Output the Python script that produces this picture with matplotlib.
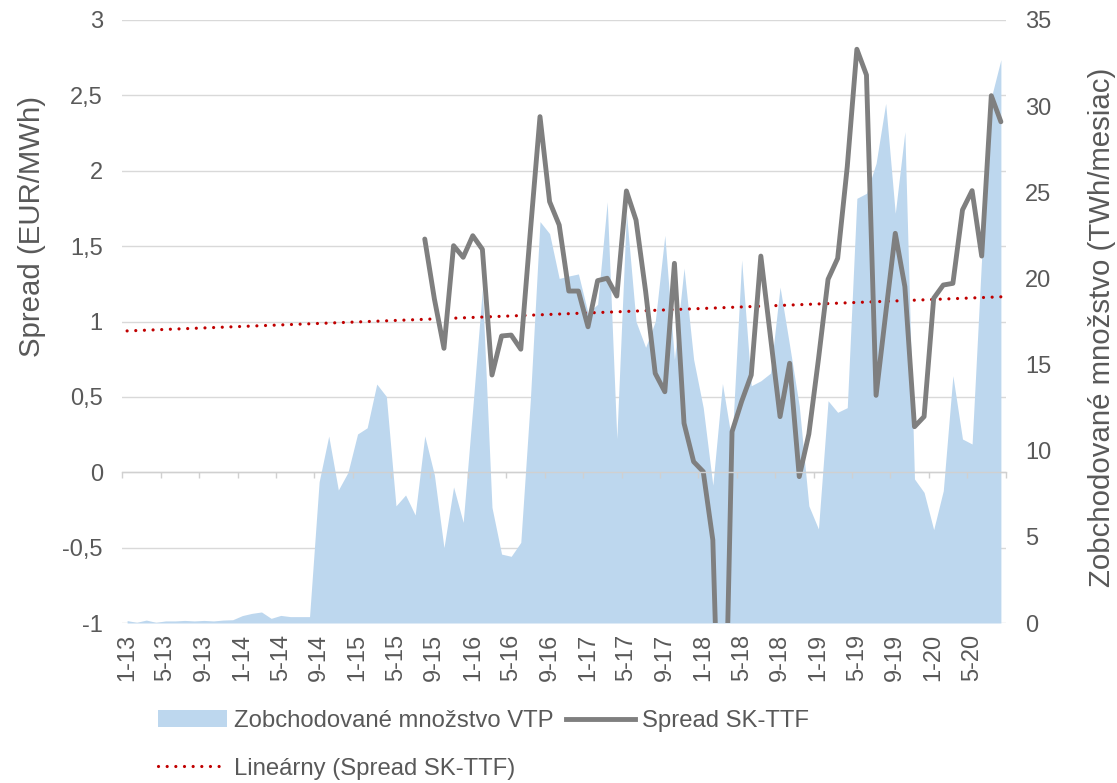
import numpy as np
import matplotlib
matplotlib.use("Agg")
import matplotlib.pyplot as plt
from matplotlib.patches import Patch
from matplotlib.lines import Line2D
from matplotlib.ticker import FuncFormatter

plt.rcParams['font.family'] = ['Liberation Sans', 'DejaVu Sans']

# ---- data -------------------------------------------------------------
months = [f"{m}-{y}" for y in range(13, 21) for m in range(1, 13)][:92]

volume = [0.14, 0.04, 0.17, 0.04, 0.12, 0.12, 0.15, 0.12, 0.15, 0.12,
          0.17, 0.19, 0.43, 0.56, 0.64, 0.27, 0.44, 0.37, 0.37, 0.37,
          8.2, 10.85, 7.72, 8.74, 10.97, 11.33, 13.87, 13.15, 6.8, 7.43,
          6.27, 10.86, 8.6, 4.37, 7.9, 5.84, 12.5, 19.4, 6.71, 4.0,
          3.87, 4.68, 13.0, 23.3, 22.6, 20.0, 20.14, 20.26, 18.0, 18.5,
          24.45, 10.7, 23.8, 17.5, 16.0, 17.5, 22.5, 15.3, 20.6, 15.3,
          12.5, 8.0, 13.9, 10.5, 21.07, 13.77, 14.06, 14.5, 19.5, 16.1,
          12.6, 6.8, 5.46, 12.9, 12.23, 12.5, 24.65, 24.94, 26.68, 30.16,
          23.78, 28.52, 8.36, 7.58, 5.42, 7.68, 14.35, 10.68, 10.39, 21.26,
          30.5, 32.7]

spread = [np.nan] * 31 + [
    1.547, 1.15, 0.822, 1.503, 1.426, 1.569, 1.479, 0.645, 0.904,
    0.910, 0.816, 1.6, 2.359, 1.795, 1.64, 1.202, 1.202, 0.965, 1.271,
    1.287, 1.169, 1.866, 1.673, 1.2, 0.656, 0.534, 1.386, 0.325, 0.07,
    0.004, -0.45, -2.6, 0.269, 0.47, 0.645, 1.434, 0.9, 0.369, 0.723,
    -0.029, 0.254, 0.75, 1.28, 1.419, 2.027, 2.806, 2.635, 0.51, 1.05,
    1.585, 1.231, 0.302, 0.369, 1.154, 1.242, 1.253, 1.74, 1.868, 1.434,
    2.498, 2.325]

left_ticks = [-1, -0.5, 0, 0.5, 1, 1.5, 2, 2.5, 3]
right_ticks = [0, 5, 10, 15, 20, 25, 30, 35]

lbl_volume = "Zobchodované množstvo VTP"
lbl_spread = "Spread SK-TTF"
lbl_trend = "Lineárny (Spread SK-TTF)"
ylabel_left = "Spread (EUR/MWh)"
ylabel_right = "Zobchodované množstvo (TWh/mesiac)"

# ---- styling ----------------------------------------------------------
C_AREA = "#BDD7EE"
C_LINE = "#7F7F7F"
C_TREND = "#C00000"
C_GRID = "#D9D9D9"
C_TEXT = "#595959"
FS_TICK = 17
FS_LEG = 17.2
FS_TITLE = 21.2

W, H = 1117, 783
fig = plt.figure(figsize=(W / 100, H / 100), dpi=100)
L, R, T, B = 122.3, 1005.7, 20, 623
rect = [L / W, 1 - B / H, (R - L) / W, (B - T) / H]

x = np.arange(len(months))
s = np.array(spread, dtype=float)
mask = ~np.isnan(s)
coef = np.polyfit(x[mask], s[mask], 1)
trend = np.polyval(coef, x)

# bottom axes: left scale, gridlines, category labels
ax = fig.add_axes(rect)
ax.set_xlim(-0.5, len(months) - 0.5)
ax.set_ylim(-1, 3)
ax.set_yticks(left_ticks)
ax.yaxis.set_major_formatter(FuncFormatter(lambda v, p: (f"{v:g}").replace(".", ",")))
ax.grid(axis='y', color=C_GRID, lw=1.0)
ax.set_axisbelow(True)
ax.set_xticks(x[::4])
ax.set_xticklabels(months[::4], rotation=90)
ax.tick_params(axis='x', length=0, pad=8, labelsize=FS_TICK, labelcolor=C_TEXT)
ax.tick_params(axis='y', length=0, pad=14, labelsize=FS_TICK, labelcolor=C_TEXT)
for sp in ax.spines.values():
    sp.set_visible(False)

# area on right scale
ax2 = ax.twinx()
ax2.fill_between(x, 0, volume, color=C_AREA, lw=0)
ax2.set_ylim(0, 35)
ax2.set_yticks(right_ticks)
ax2.tick_params(axis='y', length=0, pad=14, labelsize=FS_TICK, labelcolor=C_TEXT)
for sp in ax2.spines.values():
    sp.set_visible(False)

# top axes: spread line, trend, zero axis
ax3 = fig.add_axes(rect, label="top")
ax3.patch.set_visible(False)
ax3.set_xlim(-0.5, len(months) - 0.5)
ax3.set_ylim(-1, 3)
for k in ['left', 'right', 'top']:
    ax3.spines[k].set_visible(False)
ax3.spines['bottom'].set_position(('data', 0))
ax3.spines['bottom'].set_color("#D0D0D0")
ax3.spines['bottom'].set_linewidth(1.0)
ax3.set_xticks(np.arange(-0.5, len(months), 4))
ax3.tick_params(axis='x', direction='out', length=4.3, width=1.0, color="#D0D0D0",
                labelbottom=False)
ax3.set_yticks([])
ax3.plot(x, trend, color=C_TREND, lw=2.3, ls=(0, (0.01, 2.7)), dash_capstyle='round')
ax3.plot(x, s, color=C_LINE, lw=3.5, solid_joinstyle='round', solid_capstyle='round')

# axis titles
fig.text(32 / W, 1 - 226 / H, ylabel_left, rotation=90, ha='center', va='center',
         fontsize=FS_TITLE, color=C_TEXT)
fig.text(1102 / W, 1 - 327 / H, ylabel_right, rotation=90, ha='center', va='center',
         fontsize=FS_TITLE, color=C_TEXT)

# legend
handles = [Patch(facecolor=C_AREA, edgecolor='none'),
           Line2D([], [], color=C_TREND, lw=2.3, ls=(0, (0.01, 2.7)), dash_capstyle='round'),
           Line2D([], [], color=C_LINE, lw=3.5)]
labels = [lbl_volume, lbl_trend, lbl_spread]
fig.legend(handles, labels, ncol=2, loc='upper left', bbox_to_anchor=(158 / W, 1 - 710 / H),
           frameon=False, fontsize=FS_LEG, labelcolor=C_TEXT, handlelength=2.9,
           handletextpad=0.3, columnspacing=0.5, labelspacing=1.08, borderpad=0,
           borderaxespad=0)

fig.savefig("out.png", dpi=100)
